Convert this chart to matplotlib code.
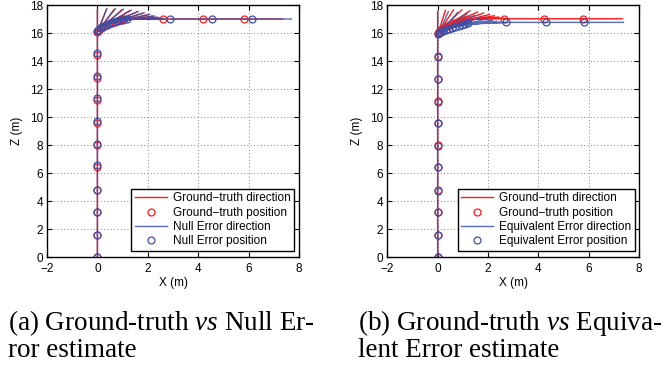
import numpy as np
import matplotlib
matplotlib.use("Agg")
import matplotlib.pyplot as plt

# ---------------- data ----------------
# Panel (a): Ground-truth vs Null Error
gt_a_x = [0, 0, 0, 0, 0, 0, 0, 0, 0, 0,
          0.0, 0.03, 0.08, 0.15, 0.24, 0.34, 0.45, 0.57, 0.69, 0.81, 0.93, 1.05,
          2.6, 4.2, 5.8]
gt_a_z = [0, 1.6, 3.2, 4.8, 6.4, 8.0, 9.6, 11.2, 12.8, 14.4,
          16.05, 16.15, 16.25, 16.35, 16.45, 16.55, 16.64, 16.73, 16.81, 16.88, 16.95, 17.0,
          17.0, 17.0, 17.0]
gt_a_h = [0, 0, 0, 0, 0, 0, 0, 0, 0, 0,
          0, 12, 22, 32, 42, 52, 60, 68, 75, 81, 86, 90,
          90, 90, 90]

ne_a_x = [0, 0, 0, 0, 0, 0, 0, 0, 0, 0,
          0.0, 0.03, 0.09, 0.17, 0.27, 0.38, 0.50, 0.63, 0.76, 0.89, 1.02, 1.16,
          2.9, 4.53, 6.15]
ne_a_z = [0, 1.6, 3.2, 4.8, 6.55, 8.1, 9.75, 11.35, 12.95, 14.55,
          16.15, 16.24, 16.33, 16.42, 16.51, 16.60, 16.69, 16.77, 16.84, 16.90, 16.96, 17.0,
          17.0, 17.0, 17.0]
ne_a_h = [0, 0, 0, 0, 0, 0, 0, 0, 0, 0,
          0, 13, 24, 34, 44, 53, 61, 69, 76, 82, 87, 90,
          90, 90, 90]

# Panel (b): Ground-truth vs Equivalent Error
gt_b_x = [0, 0, 0, 0, 0, 0, 0, 0, 0, 0,
          0.0, 0.04, 0.10, 0.18, 0.28, 0.39, 0.51, 0.64, 0.77, 0.90, 1.03, 1.15,
          2.63, 4.23, 5.78]
gt_b_z = [0, 1.6, 3.2, 4.8, 6.4, 8.0, 9.6, 11.15, 12.75, 14.35,
          16.0, 16.10, 16.20, 16.30, 16.40, 16.50, 16.60, 16.69, 16.78, 16.87, 16.95, 17.02,
          17.02, 17.02, 17.02]
gt_b_h = [0, 0, 0, 0, 0, 0, 0, 0, 0, 0,
          0, 10, 20, 30, 40, 50, 58, 66, 73, 80, 86, 90,
          90, 90, 90]

ee_b_x = [0, 0, 0, 0, 0, 0, 0, 0, 0, 0,
          0.0, 0.05, 0.12, 0.21, 0.32, 0.44, 0.57, 0.70, 0.83, 0.96, 1.09, 1.22,
          2.7, 4.3, 5.83]
ee_b_z = [0, 1.6, 3.2, 4.75, 6.4, 7.95, 9.55, 11.1, 12.7, 14.3,
          15.95, 16.02, 16.09, 16.16, 16.23, 16.30, 16.37, 16.44, 16.51, 16.58, 16.66, 16.75,
          16.76, 16.76, 16.76]
ee_b_h = [0, 0, 0, 0, 0, 0, 0, 0, 0, 0,
          0, 14, 26, 38, 48, 57, 65, 72, 78, 83, 87, 90,
          90, 90, 90]

seg_len = 1.55
xticks = [-2, 0, 2, 4, 6, 8]
yticks = [0, 2, 4, 6, 8, 10, 12, 14, 16, 18]

labels_a = ["Ground\u2212truth direction", "Ground\u2212truth position",
            "Null Error direction", "Null Error position"]
labels_b = ["Ground\u2212truth direction", "Ground\u2212truth position",
            "Equivalent Error direction", "Equivalent Error position"]
caption_a = "(a) Ground-truth $\\mathit{vs}$ Null Er-\nror estimate"
caption_b = "(b) Ground-truth $\\mathit{vs}$ Equiva-\nlent Error estimate"

RED = "#FF1A1A"
BLUE = "#3A50A8"

plt.rcParams["font.family"] = ["Liberation Sans", "DejaVu Sans"]
plt.rcParams["mathtext.fontset"] = "custom"
plt.rcParams["mathtext.rm"] = "Liberation Serif"
plt.rcParams["mathtext.it"] = "Liberation Serif:italic"

fig = plt.figure(figsize=(6.64, 3.67), dpi=100)


def segments(x, z, h):
    x = np.asarray(x, float); z = np.asarray(z, float)
    t = np.radians(np.asarray(h, float))
    xe = x + seg_len * np.sin(t)
    ze = z + seg_len * np.cos(t)
    n = len(x)
    sx = np.empty(3 * n); sz = np.empty(3 * n)
    sx[0::3] = x; sx[1::3] = xe; sx[2::3] = np.nan
    sz[0::3] = z; sz[1::3] = ze; sz[2::3] = np.nan
    return sx, sz


def panel(rect, gx, gz, gh, ex, ez, eh, labels, anchor_x):
    ax = fig.add_axes(rect)
    sx, sz = segments(gx, gz, gh)
    l1, = ax.plot(sx, sz, color=RED, lw=1.0)
    p1, = ax.plot(gx, gz, "o", mfc="none", mec=RED, ms=5, mew=0.9)
    sx, sz = segments(ex, ez, eh)
    l2, = ax.plot(sx, sz, color=BLUE, lw=1.0, alpha=0.85)
    p2, = ax.plot(ex, ez, "o", mfc="none", mec=BLUE, ms=5, mew=0.9)
    ax.set_xlim(-2, 8)
    ax.set_ylim(0, 18)
    ax.set_xticks(xticks)
    ax.set_yticks(yticks)
    ax.set_xticklabels(["\u22122" if v < 0 else str(v) for v in xticks])
    ax.tick_params(direction="in", top=True, right=True, length=3.5,
                   width=0.8, labelsize=8.5)
    ax.tick_params(axis="x", pad=4.5)
    ax.tick_params(axis="y", pad=3)
    for s in ax.spines.values():
        s.set_linewidth(1.0)
    ax.grid(True, linestyle=(0, (1, 3)), color="0.35", lw=0.6)
    ax.set_xlabel("X (m)", fontsize=8.5, labelpad=1)
    ax.set_ylabel("Z (m)", fontsize=8.5, labelpad=5)
    leg = ax.legend([l1, p1, l2, p2], labels, loc="lower right",
                    bbox_to_anchor=(anchor_x, 0.024), borderaxespad=0,
                    fontsize=8.5, handlelength=2.7, handletextpad=0.5,
                    labelspacing=0.2, borderpad=0.3, fancybox=False,
                    framealpha=1, edgecolor="black")
    leg.get_frame().set_linewidth(1.0)
    return ax


panel([0.0708, 0.2997, 0.3795, 0.6866], gt_a_x, gt_a_z, gt_a_h,
      ne_a_x, ne_a_z, ne_a_h, labels_a, 0.98)
panel([0.5833, 0.2997, 0.3790, 0.6866], gt_b_x, gt_b_z, gt_b_h,
      ee_b_x, ee_b_z, ee_b_h, labels_b, 0.984)

for x0, cap in [(8 / 664, caption_a), (358 / 664, caption_b)]:
    fig.text(x0, 1 - 308 / 367, cap, fontsize=19.5, family="Liberation Serif",
             va="top", ha="left", linespacing=1.0)

fig.savefig("out.png", dpi=100)
